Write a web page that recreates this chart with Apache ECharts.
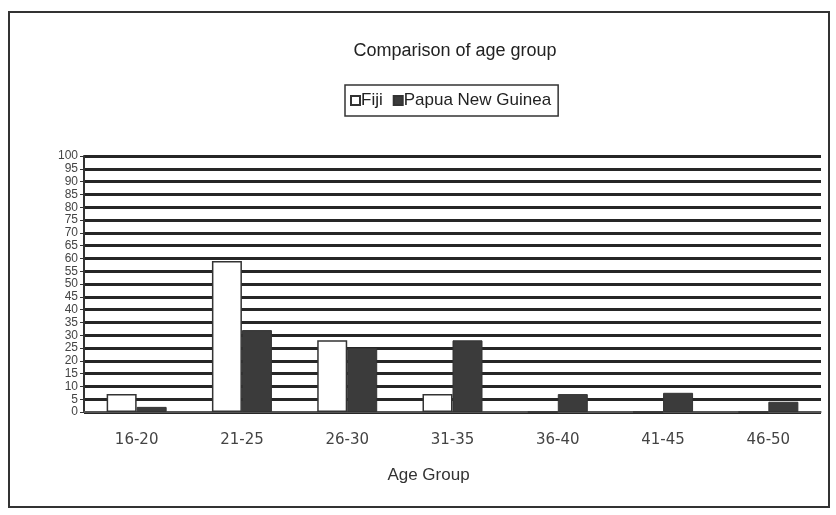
<!DOCTYPE html>
<html>
<head>
<meta charset="utf-8">
<script src="https://cdn.jsdelivr.net/npm/echarts@6/dist/echarts.min.js"></script>
<style>
  html, body { margin: 0; padding: 0; background: #fff; }
  #chart { width: 836px; height: 515px; }
</style>
</head>
<body>
<div id="chart"></div>
<script>
// Age groups and percentage of respondents per country
const ageGroups = ['16-20', '21-25', '26-30', '31-35', '36-40', '41-45', '46-50'];
const fiji = [7, 59, 28, 7, 0, 0, 0];
const papuaNewGuinea = [2, 32, 25, 28, 7, 7.5, 4];
const yTicks = { min: 0, max: 100, step: 5 };

const sans = "'Liberation Sans', Arial, sans-serif";
const chart = echarts.init(document.getElementById('chart'));

chart.setOption({
  backgroundColor: '#ffffff',
  animation: false,
  title: {
    text: 'Comparison of age group',
    left: 450, textAlign: 'center', top: 37,
    textStyle: { fontFamily: sans, fontSize: 18, fontWeight: 'normal', color: '#222' }
  },
  legend: {
    data: ['Fiji', 'Papua New Guinea'],
    left: 345, top: 85,
    itemWidth: 9, itemHeight: 9, itemGap: 10,
    icon: 'rect',
    borderColor: '#333', borderWidth: 1.5,
    padding: [7, 7, 7, 5],
    textStyle: { fontFamily: sans, fontSize: 17, color: '#222', padding: [0, 0, 0, -4] }
  },
  grid: { left: 84, right: 15, top: 156, bottom: 103 },
  xAxis: {
    type: 'category',
    data: ageGroups,
    name: 'Age Group',
    nameLocation: 'middle',
    nameGap: 55,
    nameTextStyle: { fontFamily: sans, fontSize: 17, color: '#333', padding: [0, 48, 0, 0] },
    axisLine: { lineStyle: { color: '#666', width: 1.5 } },
    axisTick: { length: 6, lineStyle: { color: '#444', width: 1.5 } },
    axisLabel: { fontFamily: 'DejaVu Sans', fontSize: 15, color: '#444', margin: 21 }
  },
  yAxis: {
    type: 'value',
    min: yTicks.min, max: yTicks.max, interval: yTicks.step,
    axisLine: { show: true, lineStyle: { color: '#333', width: 2 } },
    axisTick: { show: true, length: 4, lineStyle: { color: '#333' } },
    axisLabel: {
      fontFamily: sans, fontSize: 12, color: '#444', margin: 6,
      showMinLabel: true, showMaxLabel: true, hideOverlap: false
    },
    splitLine: { lineStyle: { color: '#262626', width: 2.8 } }
  },
  series: [
    {
      name: 'Fiji', type: 'bar', data: fiji,
      barWidth: 30, barGap: '0%',
      itemStyle: { color: '#ffffff', borderColor: '#333', borderWidth: 1.5 }
    },
    {
      name: 'Papua New Guinea', type: 'bar', data: papuaNewGuinea,
      barWidth: 30,
      itemStyle: { color: '#3b3b3b', borderColor: '#333', borderWidth: 1 }
    }
  ],
  graphic: [
    {
      type: 'rect', silent: true,
      shape: { x: 9, y: 12, width: 820, height: 495 },
      style: { fill: 'none', stroke: '#333', lineWidth: 2 }
    }
  ]
});
</script>
</body>
</html>
